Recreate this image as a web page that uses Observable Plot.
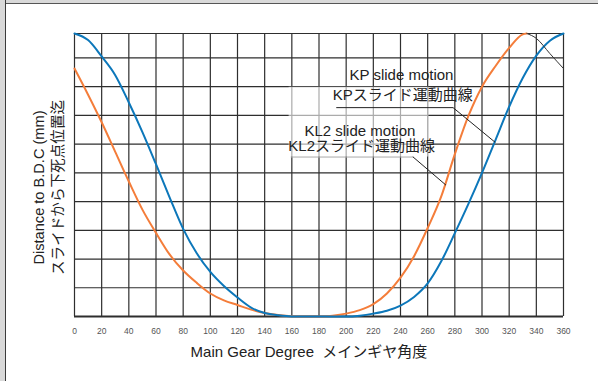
<!DOCTYPE html>
<html><head><meta charset="utf-8">
<script src="https://cdn.jsdelivr.net/npm/d3@7"></script>
<script src="https://cdn.jsdelivr.net/npm/@observablehq/plot@0.6"></script>
<style>
body{margin:0;background:#fff;}
#wrap{position:relative;width:598px;height:381px;overflow:hidden;}
#edgeL{position:absolute;left:0;top:0;width:5px;height:381px;background:#d9d9d9;border-right:1.5px solid #3c3c3c;}
#edgeT{position:absolute;left:0;top:0;width:598px;height:3px;background:#d9d9d9;border-bottom:1.2px solid #555;}
#chart{position:absolute;left:0;top:0;}
</style></head>
<body><div id="wrap"><div id="chart"></div><div id="edgeT"></div><div id="edgeL"></div></div>
<script>
// Main gear degree samples
const degrees = [0,10,20,30,40,50,60,70,80,90,100,110,120,130,140,150,160,170,180,190,200,210,220,230,240,250,260,270,280,290,300,310,320,330,340,350,360];
// KL2 slide motion (distance to BDC)
const kl2 = [9.85,9.62,9.05,8.40,7.45,6.42,5.30,4.15,3.05,2.20,1.55,1.06,0.66,0.31,0.12,0.04,0.0,0.0,0.0,0.0,0.0,0.03,0.10,0.20,0.38,0.68,1.15,1.92,2.90,3.92,5.00,6.15,7.30,8.30,9.08,9.60,9.85];
// KP slide motion (0..333 deg)
const kpDeg = [0,10,20,30,40,50,60,70,80,90,100,110,120,130,140,150,160,170,180,190,200,210,220,230,240,250,260,270,280,290,300,310,320,330,333];
const kp = [8.63,7.72,6.76,5.73,4.70,3.72,2.91,2.16,1.60,1.17,0.80,0.56,0.40,0.24,0.12,0.05,0.01,0.0,0.0,0.03,0.10,0.22,0.43,0.80,1.35,2.10,3.08,4.18,5.65,6.98,8.00,8.72,9.35,9.82,9.85];
// next cycle of KP (thin dark line)
const kpNextDeg = [333,340,350,360];
const kpNext = [9.85,9.68,9.15,8.63];
// axis ticks
const xTicks = [0,20,40,60,80,100,120,140,160,180,200,220,240,260,280,300,320,340,360];
const yGrid = [0,1,2,3,4,5,6,7,8,9];
const yTop = 9.85;
// texts
const xLabel = "Main Gear Degree  メインギヤ角度";
const yLabel = "Distance to B.D.C (mm)\nスライドから下死点位置迄";
const notes = [
  {x:240.7, y:8.40, text:"KP slide motion"},
  {x:241.6, y:7.70, text:"KPスライド運動曲線"},
  {x:210.1, y:6.45, text:"KL2 slide motion"},
  {x:211.4, y:5.92, text:"KL2スライド運動曲線"}
];

const kl2Data = degrees.map((d,i)=>({x:d,y:kl2[i]}));
const kpData = kpDeg.map((d,i)=>({x:d,y:kp[i]}));
const kpNextData = kpNextDeg.map((d,i)=>({x:d,y:kpNext[i]}));
const kpLeader = [{x:193,y:7.27},{x:278.7,y:7.27},{x:309.5,y:6.07}];
const kl2LeaderFaint = [{x:159.5,y:5.55},{x:249.3,y:5.55}];
const kl2Leader = [{x:249.3,y:5.55},{x:273.3,y:4.58}];
const box = [{x1:158,x2:261,y1:5.55,y2:7.98}];

const font = "'Liberation Sans','Noto Sans CJK JP',sans-serif";
const grid = "#2e2e2e";

const chart = Plot.plot({
  width:598, height:381,
  marginLeft:74, marginRight:35, marginTop:33, marginBottom:65,
  style:{background:"transparent", fontFamily:font},
  x:{domain:[0,360], axis:null},
  y:{domain:[0,yTop], axis:null},
  marks:[
    Plot.ruleY(yGrid,{stroke:grid,strokeWidth:1.2}),
    Plot.ruleY([yTop],{stroke:grid,strokeWidth:1.2}),
    Plot.ruleX(xTicks,{stroke:grid,strokeWidth:1.2}),
    Plot.ruleY([0],{stroke:grid,strokeWidth:1.8}),
    Plot.rect(box,{x1:"x1",x2:"x2",y1:"y1",y2:"y2",fill:"white",fillOpacity:0.6}),
    Plot.line(kpData,{x:"x",y:"y",stroke:"#f47d3a",strokeWidth:2,curve:"monotone-x"}),
    Plot.line(kl2Data,{x:"x",y:"y",stroke:"#0c77ba",strokeWidth:2,curve:"monotone-x"}),
    Plot.line(kpNextData,{x:"x",y:"y",stroke:"#333",strokeWidth:1,curve:"monotone-x"}),
    Plot.line(kpLeader,{x:"x",y:"y",stroke:"#222",strokeWidth:1}),
    Plot.line(kl2LeaderFaint,{x:"x",y:"y",stroke:"#aaa",strokeWidth:1}),
    Plot.line(kl2Leader,{x:"x",y:"y",stroke:"#222",strokeWidth:1}),
    Plot.text(notes,{x:"x",y:"y",text:"text",fontSize:15,fill:"#222"}),
    Plot.axisX({ticks:xTicks,tickSize:0,tickPadding:11,fontSize:8.5,fill:"#555",label:null}),
    Plot.text([{x:172.6}],{x:"x",frameAnchor:"bottom",dy:40.5,text:()=>xLabel,fontSize:15,fill:"#222"}),
    Plot.text([{y:4.49}],{y:"y",frameAnchor:"left",textAnchor:"middle",lineAnchor:"middle",dx:-27,rotate:-90,text:()=>yLabel,fontSize:14.6,lineHeight:1.3,fill:"#222"})
  ]
});
document.getElementById("chart").appendChild(chart);
</script>
</body></html>
